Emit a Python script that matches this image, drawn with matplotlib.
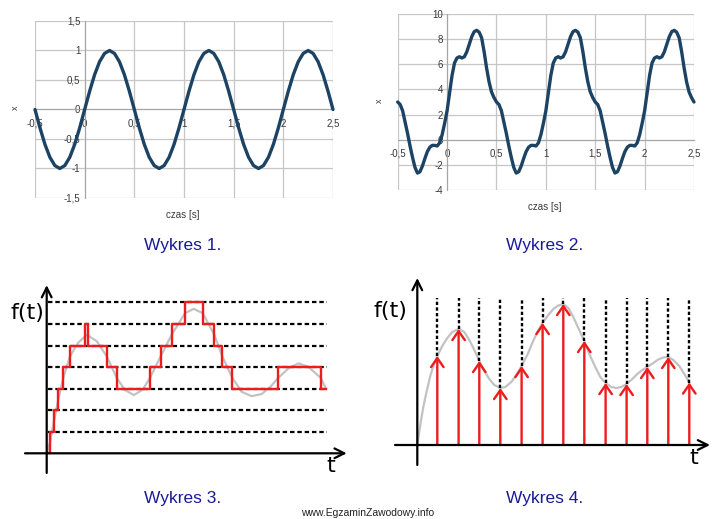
import numpy as np
import matplotlib
matplotlib.use("Agg")
import matplotlib.pyplot as plt

# ---- Wykres 1: one period of x(t), t = -0.5 .. 0.45 s, step 0.05 s
w1_period = [0, -0.31, -0.59, -0.81, -0.95, -1, -0.95, -0.81, -0.59, -0.31,
             0, 0.31, 0.59, 0.81, 0.95, 1, 0.95, 0.81, 0.59, 0.31]
w1_xticks = [-0.5, 0, 0.5, 1, 1.5, 2, 2.5]
w1_xlabels = ["-0,5", "0", "0,5", "1", "1,5", "2", "2,5"]
w1_yticks = [-1.5, -1, -0.5, 0, 0.5, 1, 1.5]
w1_ylabels = ["-1,5", "-1", "-0,5", "0", "0,5", "1", "1,5"]

# ---- Wykres 2: one period, t = -0.5 .. 0.475 s, step 0.025 s
w2_period = [3.0, 2.8, 2.3, 1.4, 0.5, -0.5, -1.4, -2.2, -2.65, -2.55,
             -2.1, -1.5, -0.95, -0.6, -0.45, -0.45, -0.5, -0.25, 0.4, 1.3,
             2.3, 3.7, 5.1, 6.1, 6.5, 6.6, 6.5, 6.6, 7.0, 7.6,
             8.2, 8.6, 8.7, 8.55, 8.1, 7.0, 5.7, 4.6, 3.8, 3.35]
w2_xticks = w1_xticks
w2_xlabels = w1_xlabels
w2_yticks = [-4, -2, 0, 2, 4, 6, 8, 10]
w2_ylabels = ["-4", "-2", "0", "2", "4", "6", "8", "10"]

# ---- Wykres 3: quantised signal (positions along t, level numbers)
w3_levels = [1, 2, 3, 4, 5, 6, 7]
w3_curve_t = [0, 3.3, 7.3, 11.6, 16.6, 23.3, 31, 40, 50, 60, 70, 78, 87, 96,
              103.3, 114, 125, 138.3, 147, 156, 167.6, 175.6, 185.6, 195, 205,
              215, 224, 231.6, 242, 252, 262, 274, 279.3]
w3_curve_f = [0, 0.5, 1.5, 2.5, 3.5, 4.5, 5.1, 5.5, 5.2, 4.5, 3.5, 2.95, 2.7,
              2.95, 3.5, 4.5, 5.5, 6.5, 6.7, 6.5, 5.5, 4.5, 3.5, 2.85, 2.65,
              2.75, 3.1, 3.5, 3.95, 4.17, 4.0, 3.5, 3.0]
w3_step_t = [1.6, 3.3, 7.3, 11.6, 16.6, 23.3, 38.3, 41.6, 60, 70, 103.3, 114,
             125, 138.3, 156, 167.6, 175.6, 185.6, 231.6, 274, 279.3]
w3_step_q = [0, 1, 2, 3, 4, 5, 6, 5, 4, 3, 4, 5, 6, 7, 6, 5, 4, 3, 4, 3, 3]

# ---- Wykres 4: sampled signal
w4_curve_t = [0, 3, 6, 9, 12.7, 16, 20, 25, 30, 35, 41.3, 47, 52, 57, 62, 67,
              72, 77, 83, 88, 94, 99, 104.3, 110, 115, 120, 125.3, 131, 136,
              141, 146, 151, 156, 161, 167, 172, 178, 183, 188.3, 194, 199,
              204, 209.3, 215, 220, 225, 230, 236, 241, 246, 251, 256, 262,
              267, 272]
w4_curve_f = [0, 20, 38, 52, 68, 79, 89, 99, 107, 113, 116, 113, 105, 95, 84,
              74, 66, 60, 57, 58, 63, 70, 79, 90, 102, 113, 122, 130, 136,
              139.5, 141, 137, 128, 117, 104, 91, 78, 68, 62, 58, 57, 58, 61,
              66, 71, 75, 78, 82, 85.5, 87.5, 88, 85, 79, 71, 62.5]
w4_samples_t = [20, 41.3, 62, 83, 104.3, 125.3, 146, 167, 188.3, 209.3, 230,
                251, 272]
w4_samples_f = [89, 116, 84, 57, 79, 122, 141, 104, 62, 61, 78, 88, 62.5]
w4_grid_top = 146.7

captions = ["Wykres 1.", "Wykres 2.", "Wykres 3.", "Wykres 4."]
watermark = "www.EgzaminZawodowy.info"

NAVY = "#1c4364"
GRID = "#c6c6c6"
RED = "#ee1c1c"
GREY = "#c2c2c2"
BLUE = "#1a1a99"

W, H = 721, 519
fig = plt.figure(figsize=(W / 100, H / 100), dpi=100)


def px_axes(x0, y0, x1, y1):
    return fig.add_axes([x0 / W, 1 - y1 / H, (x1 - x0) / W, (y1 - y0) / H])


def fig_text(px, py, s, **kw):
    fig.text(px / W, 1 - py / H, s, ha="center", va="center", **kw)


def excel_chart(box, t, x, xt, xl, yt, yl):
    ax = px_axes(*box)
    ax.plot(t, x, color=NAVY, lw=2.4, zorder=4, clip_on=False,
            solid_capstyle="round")
    ax.set_xlim(xt[0], xt[-1])
    ax.set_ylim(yt[0], yt[-1])
    ax.set_xticks(xt, xl)
    ax.set_yticks(yt, yl)
    ax.grid(True, color=GRID, lw=0.9)
    for gl in ax.get_xgridlines() + ax.get_ygridlines():
        gl.set_clip_on(False)
    ax.set_axisbelow(True)
    for side in ("left", "bottom"):
        ax.spines[side].set_position(("data", 0))
        ax.spines[side].set_color("#a6a6a6")
    for side in ("top", "right"):
        ax.spines[side].set_visible(False)
    ax.tick_params(length=0, labelsize=7, labelcolor="#3a3a3a")
    ax.tick_params(axis="x", pad=6.5)
    ax.tick_params(axis="y", pad=3)
    for lab in ax.get_xticklabels() + ax.get_yticklabels():
        lab.set_fontfamily("Liberation Sans")
    return ax


def arrow(ax, start, end, color, lw, hl, hw):
    ax.annotate("", xy=end, xytext=start, annotation_clip=False,
                arrowprops=dict(arrowstyle=f"->,head_length={hl},head_width={hw}",
                                color=color, lw=lw, shrinkA=0, shrinkB=0))


# Wykres 1
t1 = np.linspace(-0.5, 2.5, 3 * len(w1_period) + 1)
x1 = np.append(np.tile(w1_period, 3), w1_period[0])
excel_chart((35, 21, 333, 198), t1, x1, w1_xticks, w1_xlabels,
            w1_yticks, w1_ylabels)
fig_text(15, 108, "x", fontsize=6.5, rotation=90, color="#3a3a3a",
         family="Liberation Sans")
fig_text(183, 215, "czas [s]", fontsize=7, color="#3a3a3a",
         family="Liberation Sans")

# Wykres 2
t2 = np.linspace(-0.5, 2.5, 3 * len(w2_period) + 1)
x2 = np.append(np.tile(w2_period, 3), w2_period[0])
excel_chart((397.7, 14, 694, 190), t2, x2, w2_xticks, w2_xlabels,
            w2_yticks, w2_ylabels)
fig_text(379, 101, "x", fontsize=6.5, rotation=90, color="#3a3a3a",
         family="Liberation Sans")
fig_text(545, 207, "czas [s]", fontsize=7, color="#3a3a3a",
         family="Liberation Sans")

# Wykres 3
ax3 = px_axes(0, 270, 360, 482)
ax3.set_xlim(-46.7, 313.3)
ax3.set_ylim(-1.331, 8.502)
ax3.axis("off")
for lv in w3_levels:
    ax3.plot([1.3, 280.3], [lv, lv], color="k", lw=1.6, dashes=(2.0, 1.3),
             zorder=2)
ax3.plot(w3_curve_t, w3_curve_f, color=GREY, lw=1.6, zorder=1)
ax3.step(w3_step_t, w3_step_q, where="post", color=RED, lw=1.7, zorder=3)
arrow(ax3, (0, -0.91), (0, 7.8), "k", 1.6, 0.7, 0.35)
arrow(ax3, (-21.7, 0), (300, 0), "k", 1.6, 0.7, 0.35)
ax3.text(-19.7, 6.5, "f(t)", fontsize=16, ha="center", va="center",
         family="DejaVu Sans")
ax3.text(284.3, -0.6, "t", fontsize=16, ha="center", va="center",
         family="DejaVu Sans")

# Wykres 4
ax4 = px_axes(360, 270, 721, 482)
ax4.set_xlim(-57.3, 303.7)
ax4.set_ylim(-37, 175)
ax4.axis("off")
ax4.plot(w4_curve_t, w4_curve_f, color=GREY, lw=1.6, zorder=1)
for ts, fs in zip(w4_samples_t, w4_samples_f):
    ax4.plot([ts, ts], [fs, w4_grid_top], color="k", lw=1.7,
             dashes=(1.4, 1.0), zorder=2)
    arrow(ax4, (ts, 0), (ts, fs), RED, 1.7, 0.65, 0.45)
arrow(ax4, (0, -20), (0, 167), "k", 1.6, 0.7, 0.35)
arrow(ax4, (-22.3, 0), (292.7, 0), "k", 1.6, 0.7, 0.35)
ax4.text(-26.8, 133.5, "f(t)", fontsize=16, ha="center", va="center",
         family="DejaVu Sans")
ax4.text(276.7, -13, "t", fontsize=16, ha="center", va="center",
         family="DejaVu Sans")

# captions
for (cx, cy), cap in zip([(183, 245), (545, 245), (183, 498), (545, 498)],
                         captions):
    fig_text(cx, cy, cap, fontsize=12.5, color=BLUE, family="Liberation Sans")
fig_text(368, 513, watermark, fontsize=7.5, color="#222222",
         family="Liberation Sans")

fig.savefig("out.png", dpi=100)
